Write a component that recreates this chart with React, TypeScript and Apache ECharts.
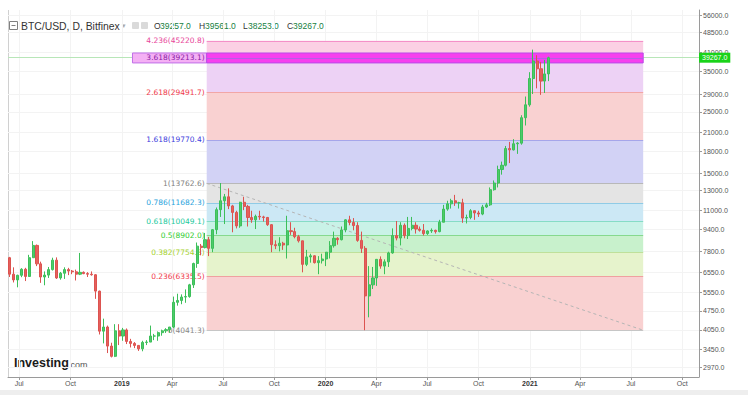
import React, { useEffect, useRef } from 'react';
import * as echarts from 'echarts';

const FONT = '"Liberation Sans", Arial, sans-serif';
const FIB_FONT = '"DejaVu Sans", Verdana, sans-serif';

// Weekly candles (Thursday of each week), [open, high, low, close]
const firstWeekThursday = '2018-06-14';
const weeklyOHLC: number[][] = [
  // 2018
  [7400, 7450, 6300, 6450], [6450, 6830, 6020, 6150], [6150, 6420, 5780, 6390], [6390, 6780, 6290, 6720],
  [6720, 6800, 6090, 6330], [6330, 7580, 6310, 7400], [7400, 8500, 7400, 8200], [8200, 8260, 6900, 7030],
  [7030, 7160, 6000, 6300], [6300, 6600, 5880, 6400], [6400, 6850, 6250, 6700], [6700, 7400, 6650, 7250],
  [7250, 7420, 6200, 6250], [6250, 6570, 6160, 6500], [6500, 6830, 6200, 6700], [6700, 6800, 6400, 6620],
  [6620, 6680, 6450, 6580], [6580, 6700, 6120, 6450], [6450, 7700, 6400, 6550], [6550, 6600, 6450, 6480],
  [6480, 6560, 6300, 6450], [6450, 6600, 6370, 6420], [6420, 6450, 5250, 5600], [5600, 5620, 3900, 4010],
  [4010, 4450, 3620, 4150], [4150, 4200, 3340, 3540], [3540, 3640, 3220, 3250], [3250, 4250, 3230, 4020],
  [4020, 4250, 3570, 3850], [3850, 4120, 3700, 4050],
  // 2019
  [4050, 4100, 3600, 3680], [3680, 3760, 3500, 3620], [3620, 3660, 3480, 3560], [3560, 3570, 3400, 3460],
  [3460, 3700, 3390, 3650], [3650, 3720, 3570, 3660], [3660, 4200, 3660, 3850], [3850, 3920, 3720, 3850],
  [3850, 4000, 3700, 3960], [3960, 4060, 3860, 4020], [4020, 4110, 3950, 4060], [4060, 4150, 3960, 4150],
  [4150, 5350, 4110, 5100], [5100, 5480, 4960, 5180], [5180, 5450, 5020, 5330], [5330, 5680, 5080, 5350],
  [5350, 5950, 5300, 5900], [5900, 7100, 5750, 7050], [7050, 8400, 6800, 8150], [8150, 8300, 7550, 8050],
  [8050, 9100, 8000, 8600], [8600, 8800, 7500, 8000], [8000, 9400, 7750, 9350], [9350, 11250, 9000, 11050],
  [11050, 13800, 10400, 11900], [11900, 12600, 9800, 12300], [12300, 13200, 11100, 11400], [11400, 11500, 9150, 10800],
  [10800, 10950, 9450, 9650], [9650, 11800, 9500, 11750], [11750, 12300, 11000, 11350], [11350, 11500, 9600, 10350],
  [10350, 10950, 9900, 10150], [10150, 10600, 9400, 10450], [10450, 10950, 10150, 10400], [10400, 10500, 10000, 10350],
  [10350, 10400, 9650, 9750], [9750, 9800, 7750, 8250], [8250, 8550, 7950, 8180], [8180, 8780, 7800, 8350],
  [8350, 8450, 7900, 8230], [8230, 10500, 7350, 9270], [9270, 9950, 8950, 9200], [9200, 9500, 8700, 8820],
  [8820, 8950, 8400, 8520], [8520, 8530, 6550, 7000], [7000, 7900, 6900, 7450], [7450, 7650, 7100, 7520],
  [7520, 7550, 7050, 7100], [7100, 7500, 6450, 7220], [7220, 7650, 7050, 7320], [7320, 7550, 6900, 7750],
  // 2020
  [7750, 8500, 7350, 8180], [8180, 9200, 8050, 8700], [8700, 8780, 8250, 8600], [8600, 9600, 8550, 9330],
  [9330, 10200, 9150, 10150], [10150, 10500, 9700, 9930], [9930, 10300, 9300, 9680], [9680, 9950, 8450, 8550],
  [8550, 9200, 7700, 8000], [8000, 8150, 4041, 5380], [5380, 6900, 4500, 5900], [5900, 6850, 5700, 6250],
  [6250, 7300, 5850, 7300], [7300, 7480, 6750, 6900], [6900, 7300, 6450, 7150], [7150, 7780, 6850, 7700],
  [7700, 9450, 7650, 8900], [8900, 10050, 8550, 8720], [8720, 9950, 8200, 9700], [9700, 9850, 8700, 8900],
  [8900, 10400, 8650, 9450], [9450, 10400, 9300, 9700], [9700, 9950, 9050, 9400], [9400, 9600, 9200, 9300],
  [9300, 9800, 8900, 9050], [9050, 9300, 8950, 9250], [9250, 9450, 9100, 9300], [9300, 9350, 9050, 9200],
  [9200, 10150, 9150, 9950], [9950, 11500, 9950, 11100], [11100, 11900, 10950, 11600], [11600, 12100, 11150, 11900],
  [11900, 12500, 11400, 11700], [11700, 11800, 11150, 11700], [11700, 12100, 9900, 10300], [10300, 10600, 9850, 10350],
  [10350, 11100, 10200, 10950], [10950, 10980, 10150, 10750], [10750, 10950, 10400, 10650], [10650, 11500, 10550, 11300],
  [11300, 11700, 11200, 11500], [11500, 13300, 11400, 13050], [13050, 14100, 12950, 13800], [13800, 15950, 13300, 15450],
  [15450, 16500, 14800, 16000], [16000, 18800, 15850, 18400], [18400, 19450, 16300, 18200], [18200, 19900, 18100, 19150],
  [19150, 19400, 17600, 19250], [19250, 24300, 19000, 23800], [23800, 28400, 22300, 26500], [26500, 34800, 26100, 33000],
  // 2021
  [33000, 42000, 29000, 38200], [38200, 40100, 30400, 35800], [35800, 37900, 28800, 32300], [32300, 38500, 29250, 34300],
  [34300, 39600, 32300, 39267],
];

// Fibonacci extension tool
const fibRatios = [4.236, 3.618, 2.618, 1.618, 1, 0.786, 0.618, 0.5, 0.382, 0.236, 0];
const fibPrices = [45220.8, 39213.1, 29491.7, 19770.4, 13762.6, 11682.3, 10049.1, 8902.0, 7754.8, 6335.5, 4041.3];
const fibLabelColors = ['#e8459a', '#8a1ca6', '#f0384a', '#4040dd', '#808080', '#29a3dc', '#21c99c', '#2ecc2e', '#a5d22c', '#f0384a', '#888888'];
const fibLineColors = ['#f490c8', '#b45de8', '#f2a6a6', '#a6a6ea', '#b8b8b8', '#8fcbe6', '#86dcc6', '#86d98e', '#bfe09a', '#f0a0a0', '#c6c6c6'];
const fibFillColors = ['#fbd0e4', '#edd2f5', '#f9d1d1', '#d2d2f5', '#e4e4e4', '#cce8f5', '#c9f2e7', '#c8f1cc', '#e6f3cc', '#f9d1d1'];
const fibStartDate = '2019-06-02';
const fibEndDate = '2021-07-23';
const highlightStartDate = '2019-01-20';
const highlightRange = [40840, 37590];

const lastPrice = 39267.0;
const headerTitle = 'BTC/USD, D, Bitfinex';
const headerLetters = ['O', 'H', 'L', 'C'];
const headerValues = [39257.0, 39561.0, 38253.0, 39267.0];

const yTickValues = [56000, 48500, 41000, 35000, 29000, 25000, 21000, 18000, 15000, 13000, 11000, 9400, 7800, 6550, 5550, 4750, 4050, 3450, 2970];
const xTickDates = ['2018-07-01', '2018-10-01', '2019-01-01', '2019-04-01', '2019-07-01', '2019-10-01', '2020-01-01', '2020-04-01', '2020-07-01', '2020-10-01', '2021-01-01', '2021-04-01', '2021-07-01', '2021-10-01'];
const monthNames = ['Jan', 'Feb', 'Mar', 'Apr', 'May', 'Jun', 'Jul', 'Aug', 'Sep', 'Oct', 'Nov', 'Dec'];
const xMin = '2018-06-11';
const xMax = '2021-10-31';
const yMin = 2735;
const yMax = 58460;

function ts(s: string): number {
  const [y, m, d] = s.split('-').map(Number);
  return new Date(y, m - 1, d).getTime();
}

export default function App() {
  const ref = useRef<HTMLDivElement>(null);
  useEffect(() => {
    const chart = echarts.init(ref.current!, null, { renderer: 'svg' });
    const DAY = 86400000;
    const t0 = ts(firstWeekThursday);
    const candles = weeklyOHLC.map((r, i) => [t0 + i * 7 * DAY, r[0], r[3], r[2], r[1]]);
    const fs = ts(fibStartDate);
    const fe = ts(fibEndDate);

    const bandData: any[] = fibFillColors.map((c, i) => [
      { coord: [fs, fibPrices[i]], itemStyle: { color: c, opacity: 1 } },
      { coord: [fe, fibPrices[i + 1]] },
    ]);
    // selection highlight of the 3.618 level: lighter over the label area, saturated over the band
    bandData.push([
      { coord: [ts(highlightStartDate), highlightRange[0]], itemStyle: { color: '#f4b0f4', opacity: 1, borderColor: '#c070e8', borderWidth: 1 } },
      { coord: [fs, highlightRange[1]] },
    ]);
    bandData.push([
      { coord: [fs, highlightRange[0]], itemStyle: { color: '#f640ee', opacity: 1, borderColor: '#b94ae8', borderWidth: 1 } },
      { coord: [fe, highlightRange[1]] },
    ]);

    const levelLines: any[] = fibPrices.map((p, i) => [
      {
        coord: [fs, p],
        lineStyle: { color: fibLineColors[i], width: 1, type: 'solid' },
        label: {
          show: true, position: 'start', distance: 2,
          formatter: `${fibRatios[i]}(${p.toFixed(1)})`,
          color: fibLabelColors[i], fontSize: 7.5, fontFamily: FIB_FONT,
        },
      },
      { coord: [fe, p] },
    ]);
    levelLines.push([
      { coord: [fs, fibPrices[4]], lineStyle: { color: '#b5b5b5', width: 1, type: [3, 3] }, label: { show: false } },
      { coord: [fe, fibPrices[10]] },
    ]);

    const xTicks = xTickDates.map(ts);

    const valueX = [160, 205, 248, 293];
    const letterX = [154, 199, 243, 287];
    const header: any[] = [
      { type: 'rect', shape: { x: 9.5, y: 21.5, width: 8, height: 8 }, style: { fill: '#fff', stroke: '#808080', lineWidth: 1 } },
      { type: 'line', shape: { x1: 11.5, y1: 25.5, x2: 15.5, y2: 25.5 }, style: { stroke: '#808080', lineWidth: 1 } },
      { type: 'text', x: 21, y: 26, style: { text: headerTitle, fontSize: 10.4, fontFamily: FONT, fill: '#333', verticalAlign: 'middle' } },
      { type: 'text', x: 122, y: 25, style: { text: '▾', fontSize: 7, fontFamily: FONT, fill: '#aaa', verticalAlign: 'middle' } },
      { type: 'rect', shape: { x: 132, y: 22, width: 7, height: 7, r: 1 }, style: { fill: '#dadada' } },
      { type: 'rect', shape: { x: 141, y: 22, width: 7, height: 7, r: 1 }, style: { fill: '#dadada' } },
      { type: 'line', shape: { x1: 8.5, y1: 10, x2: 8.5, y2: 377 }, style: { stroke: '#d0d0d0', lineWidth: 1 } },
      { type: 'rect', shape: { x: 0, y: 390, width: 748, height: 5 }, style: { fill: '#eeeeee' } },
      { type: 'text', x: 14, y: 363, style: { text: 'Investing', fontSize: 12.5, fontWeight: 'bold', fontFamily: FONT, fill: '#1a1a1a', verticalAlign: 'middle' } },
      { type: 'text', x: 68, y: 364.5, style: { text: '.com', fontSize: 9, fontFamily: FONT, fill: '#555', verticalAlign: 'middle' } },
    ];
    headerLetters.forEach((l, i) => {
      header.push({ type: 'text', x: letterX[i], y: 26, style: { text: l, fontSize: 8.5, fontFamily: FONT, fill: '#333', verticalAlign: 'middle' } });
      header.push({ type: 'text', x: valueX[i], y: 26, style: { text: headerValues[i].toFixed(1), fontSize: 8.5, fontFamily: FONT, fill: '#16803f', verticalAlign: 'middle' } });
    });

    chart.setOption({
      animation: false,
      backgroundColor: '#ffffff',
      grid: { left: 8, right: 49, top: 10, bottom: 18, containLabel: false, outerBoundsMode: 'none' },
      xAxis: {
        type: 'value',
        min: ts(xMin),
        max: ts(xMax),
        axisLine: { show: true, lineStyle: { color: '#9a9a9a' } },
        axisTick: { show: true, length: 3, customValues: xTicks, lineStyle: { color: '#9a9a9a' } },
        axisLabel: {
          customValues: xTicks,
          margin: 3,
          color: '#555',
          fontSize: 7,
          fontFamily: FONT,
          formatter: (v: number) => {
            const d = new Date(v);
            return d.getMonth() === 0 ? `{y|${d.getFullYear()}}` : monthNames[d.getMonth()];
          },
          rich: { y: { fontWeight: 'bold', color: '#333', fontSize: 7, fontFamily: FONT } },
        },
        splitLine: { show: true, lineStyle: { color: '#f3f3f3' } },
      },
      yAxis: {
        type: 'log',
        logBase: 10,
        position: 'right',
        min: yMin,
        max: yMax,
        axisLine: { show: true, lineStyle: { color: '#9a9a9a' } },
        axisTick: { show: true, length: 3, customValues: yTickValues, lineStyle: { color: '#9a9a9a' } },
        axisLabel: {
          customValues: yTickValues,
          margin: 4,
          color: '#555',
          fontSize: 7,
          fontFamily: FONT,
          formatter: (v: number) => Number(v).toFixed(1),
        },
        splitLine: { show: true, lineStyle: { color: '#f3f3f3' } },
      },
      graphic: header,
      series: [
        {
          type: 'line', data: [], z: 0.5, silent: true,
          markLine: {
            silent: true, z: 0.5, symbol: ['none', 'none'],
            data: [{
              yAxis: lastPrice,
              lineStyle: { color: '#b8e6b8', width: 1, type: 'solid' },
              label: {
                show: true, position: 'end', distance: 0,
                formatter: lastPrice.toFixed(1),
                color: '#fff', backgroundColor: '#19d319', padding: [2, 3, 1, 3],
                fontSize: 7, fontFamily: FONT,
              },
            }],
          },
        },
        { type: 'line', data: [], z: 1, silent: true, markArea: { silent: true, z: 1, data: bandData } },
        { type: 'line', data: [], z: 2, silent: true, markLine: { silent: true, z: 2, symbol: ['none', 'none'], data: levelLines } },
        {
          type: 'candlestick',
          z: 3,
          data: candles,
          encode: { x: 0, y: [1, 2, 3, 4] },
          barWidth: 2.6,
          itemStyle: { color: '#4ecb6a', color0: '#e5605c', borderColor: '#3cbf5a', borderColor0: '#dc5350', borderWidth: 1 },
        },
      ],
    });
    return () => chart.dispose();
  }, []);
  return <div ref={ref} style={{ position: 'fixed', left: 0, top: 0, width: 748, height: 395 }} />;
}
